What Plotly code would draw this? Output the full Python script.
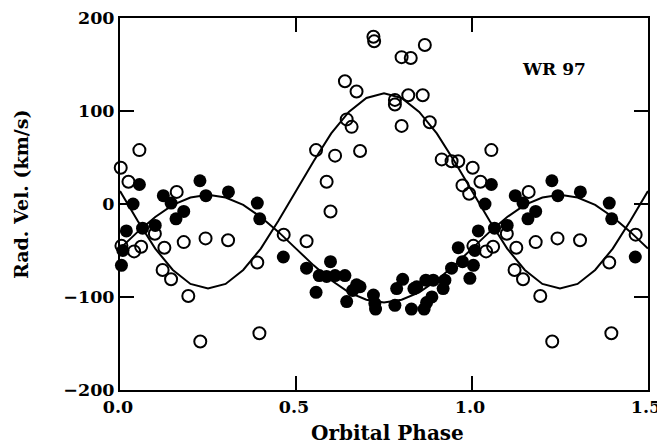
import plotly.graph_objects as go

# ---- data (phases 0-1; the 1.0-1.5 part of the plot repeats 0-0.5) ----
filled_phase = [0.004, 0.008, 0.018, 0.037, 0.055, 0.064, 0.100, 0.123, 0.145, 0.159,
                0.181, 0.227, 0.244, 0.308, 0.390, 0.397, 0.464, 0.530, 0.557, 0.566,
                0.587, 0.598, 0.611, 0.639, 0.644, 0.661, 0.672, 0.682, 0.720, 0.724,
                0.726, 0.781, 0.786, 0.803, 0.828, 0.835, 0.843, 0.864, 0.869, 0.871,
                0.886, 0.890, 0.918, 0.923, 0.942, 0.961, 0.973, 0.994]
filled_vel = [-66, -50, -29, 0, 21, -26, -23, 9, 1, -16,
              -8, 25, 9, 13, 1, -16, -57, -69, -95, -77,
              -78, -62, -77, -77, -105, -93, -87, -89, -98, -107,
              -113, -109, -91, -81, -113, -91, -89, -113, -82, -106,
              -100, -82, -91, -82, -69, -47, -62, -80]

open_phase = [0.002, 0.004, 0.024, 0.040, 0.055, 0.060, 0.099, 0.121, 0.126, 0.145,
              0.161, 0.181, 0.194, 0.228, 0.243, 0.307, 0.390, 0.396, 0.465, 0.530,
              0.557, 0.587, 0.598, 0.611, 0.639, 0.644, 0.658, 0.672, 0.682, 0.720,
              0.722, 0.781, 0.781, 0.800, 0.800, 0.819, 0.826, 0.860, 0.866, 0.880,
              0.914, 0.942, 0.961, 0.973, 0.992]
open_vel = [39, -45, 24, -51, 58, -46, -32, -71, -47, -81,
            13, -41, -99, -148, -37, -39, -63, -139, -33, -40,
            58, 24, -8, 52, 132, 91, 83, 121, 57, 180,
            175, 112, 107, 158, 84, 117, 157, 117, 171, 88,
            48, 46, 46, 20, 11]

curve_phase = [0.00, 0.05, 0.10, 0.15, 0.20, 0.25, 0.30, 0.35, 0.40, 0.45,
               0.50, 0.55, 0.60, 0.65, 0.70, 0.75, 0.80, 0.85, 0.90, 0.95,
               1.00, 1.05, 1.10, 1.15, 1.20, 1.25, 1.30, 1.35, 1.40, 1.45, 1.50]
curve_open = [14, -18, -48, -71, -86, -91, -86, -71, -48, -18,
              14, 46, 76, 99, 114, 119, 114, 99, 76, 46,
              14, -18, -48, -71, -86, -91, -86, -71, -48, -18, 14]
curve_filled = [-48, -30, -14, -1, 7, 10, 7, -1, -14, -30,
                -48, -66, -82, -95, -103, -106, -103, -95, -82, -66,
                -48, -30, -14, -1, 7, 10, 7, -1, -14, -30, -48]

x_ticks = [0.0, 0.5, 1.0, 1.5]
y_ticks = [-200, -100, 0, 100, 200]
label_text = "WR 97"


def extend(ph, v):
    xs, ys = list(ph), list(v)
    for p, y in zip(ph, v):
        if p + 1 <= 1.5:
            xs.append(p + 1)
            ys.append(y)
    return xs, ys


fx, fy = extend(filled_phase, filled_vel)
ox, oy = extend(open_phase, open_vel)

FONT = "DejaVu Serif"

fig = go.Figure()
fig.add_trace(go.Scatter(x=curve_phase, y=curve_open, mode="lines",
                         line=dict(color="black", width=2), hoverinfo="skip"))
fig.add_trace(go.Scatter(x=curve_phase, y=curve_filled, mode="lines",
                         line=dict(color="black", width=2), hoverinfo="skip"))
fig.add_trace(go.Scatter(x=ox, y=oy, mode="markers", cliponaxis=False,
                         marker=dict(symbol="circle-open", size=12, color="black",
                                     line=dict(width=2, color="black"))))
fig.add_trace(go.Scatter(x=fx, y=fy, mode="markers", cliponaxis=False,
                         marker=dict(symbol="circle", size=13, color="black",
                                     line=dict(width=0))))

axis_common = dict(showgrid=False, zeroline=False, showline=True, linecolor="black",
                   linewidth=2, mirror="ticks", ticks="inside", ticklen=14,
                   tickwidth=1.5, tickcolor="black", automargin=False,
                   ticklabeloverflow="allow",
                   tickfont=dict(family=FONT, size=17.5, color="black", weight="bold"))

fig.update_xaxes(range=[-0.0001, 1.5001], tickvals=x_ticks, ticklabelshift=-2,
                 ticktext=[f"{t:.1f}" for t in x_ticks], **axis_common)
fig.update_yaxes(range=[-200.1, 200.1], tickvals=y_ticks,
                 ticktext=[str(t).replace("-", "\u2212") for t in y_ticks], **axis_common)

# page body has an 8px margin, so the figure sits at (8, 8) in the window
OFF = 8
W, H = 665, 448
L, R, T, B = 120 - OFF, 17 + OFF, 18 - OFF, 58 + OFF
pw, ph_ = W - L - R, H - T - B


def px_to_paper(xp, yp):
    xp, yp = xp - OFF, yp - OFF
    return (xp - L) / pw, (H - B - yp) / ph_


annotations = []
for text, (xp, yp), ang, size in [("Orbital Phase", (387, 433), 0, 20),
                                  ("Rad. Vel. (km/s)", (21, 195), -90, 19),
                                  (label_text, (554, 69), 0, 17)]:
    xx, yy = px_to_paper(xp, yp)
    annotations.append(dict(text=text, x=xx, y=yy, xref="paper", yref="paper",
                            xanchor="center", yanchor="middle", showarrow=False,
                            textangle=ang,
                            font=dict(family=FONT, size=size, color="black", weight="bold")))

fig.update_layout(
    width=W, height=H,
    margin=dict(l=L, r=R, t=T, b=B, autoexpand=False),
    plot_bgcolor="white", paper_bgcolor="white",
    showlegend=False,
    font=dict(family=FONT, size=17, color="black", weight="bold"),
    annotations=annotations,
)

fig.write_html("out.html")
